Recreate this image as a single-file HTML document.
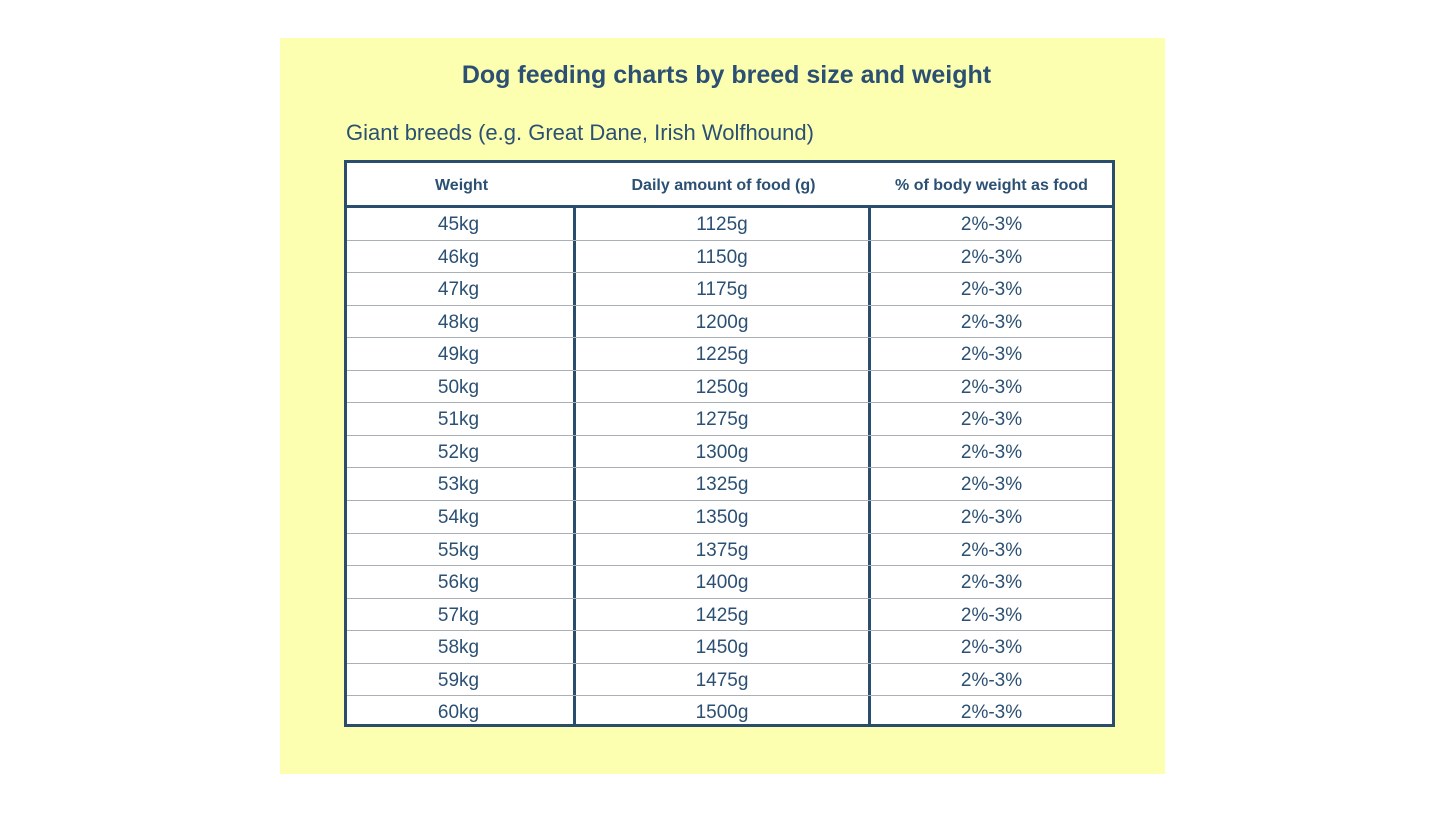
<!DOCTYPE html>
<html><head><style>
body{margin:0;width:1445px;height:813px;background:#fff;position:relative;font-family:"Liberation Sans",sans-serif;color:#2b5073;overflow:hidden}
.panel{position:absolute;left:280px;top:38px;width:885px;height:736px;background:#fdffb0}
.t{position:absolute;white-space:nowrap}
.tbl{position:absolute;left:344px;top:160px;width:765px;height:561px;border:3px solid #2a4d6e;background:#fff}
.h{position:absolute;top:0;height:42px;line-height:46px;font-weight:bold;font-size:16px;text-align:center}
.hl{position:absolute;left:0;top:42px;width:765px;height:3px;background:#2a4d6e}
.v{position:absolute;top:44px;bottom:0;width:3px;background:#2a4d6e}
.r{position:absolute;left:0;width:765px;height:1px;background:#aab0b6}
.c{position:absolute;font-size:19px;text-align:center;height:32px;line-height:34px}
</style></head><body>
<div class="panel"></div>
<div class="t" style="left:284px;width:885px;text-align:center;top:61px;font-size:25px;font-weight:bold">Dog feeding charts by breed size and weight</div>
<div class="t" style="left:346px;top:120px;font-size:22px">Giant breeds (e.g. Great Dane, Irish Wolfhound)</div>
<div class="tbl" id="tb">
<div class="h" style="left:0;width:229px">Weight</div>
<div class="h" style="left:229px;width:295px">Daily amount of food (g)</div>
<div class="h" style="left:524px;width:241px">% of body weight as food</div>
<div class="hl"></div>
<div class="v" style="left:226px"></div>
<div class="v" style="left:521px"></div>
</div>
<script>
var tb=document.getElementById('tb'),h='';
for(var i=0;i<16;i++){var y=45+i*32.55;
if(i>0)h+='<div class="r" style="top:'+(y-1).toFixed(1)+'px"></div>';
h+='<div class="c" style="left:0;width:223px;top:'+y.toFixed(1)+'px">'+(45+i)+'kg</div>';
h+='<div class="c" style="left:229px;width:292px;top:'+y.toFixed(1)+'px">'+(1125+25*i)+'g</div>';
h+='<div class="c" style="left:524px;width:241px;top:'+y.toFixed(1)+'px">2%-3%</div>';}
tb.insertAdjacentHTML('beforeend',h);
</script>
</body></html>
